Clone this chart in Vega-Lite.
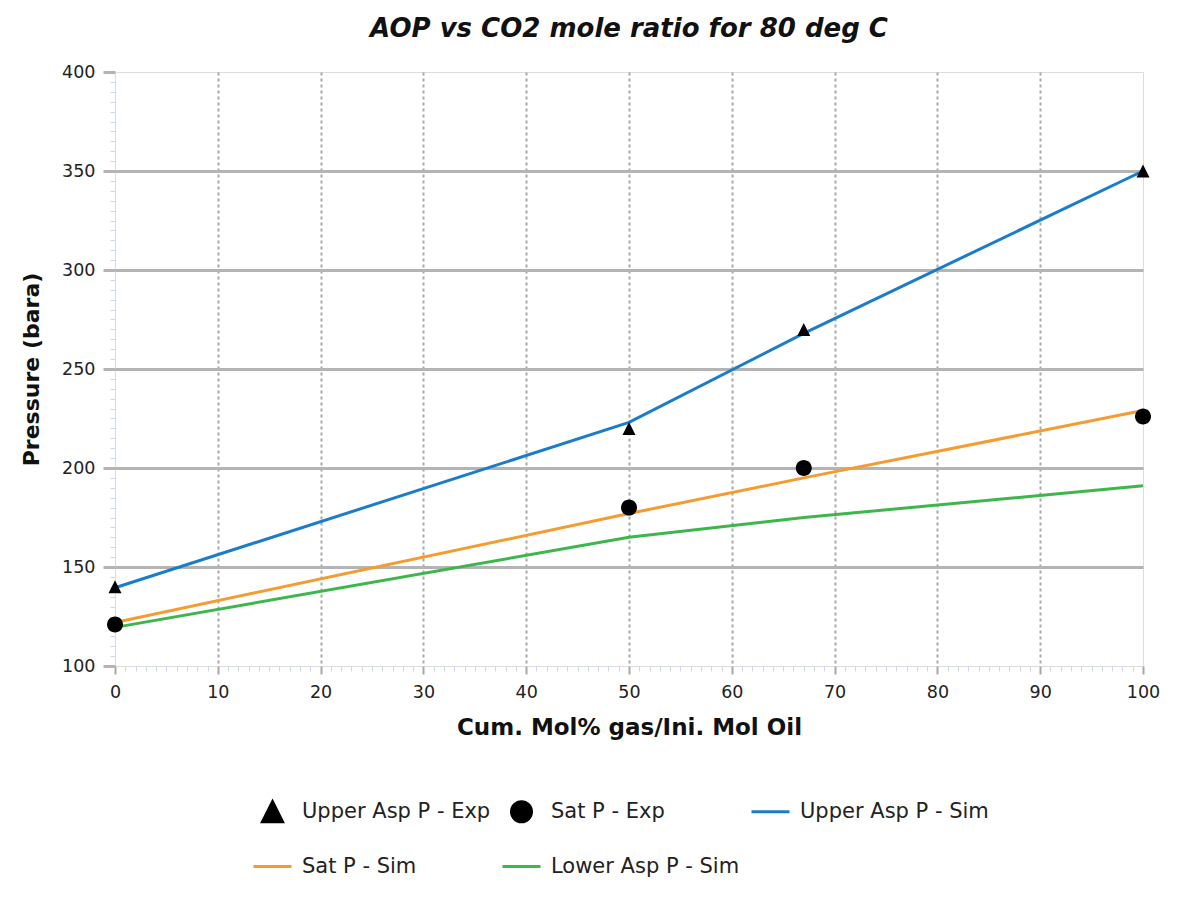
{
  "$schema": "https://vega.github.io/schema/vega-lite/v6.json",
  "autosize": "none",
  "width": 1028,
  "height": 594,
  "padding": {"left": 115, "top": 72, "right": 55, "bottom": 235},
  "background": "white",
  "title": {
    "text": "AOP vs CO2 mole ratio for 80 deg C",
    "anchor": "middle",
    "font": "DejaVu Sans",
    "fontSize": 26,
    "fontWeight": "bold",
    "fontStyle": "italic",
    "color": "#111111",
    "offset": 21
  },
  "data": {
    "values": [
      {"series": "Upper Asp P - Exp", "kind": "exp", "gas": 0, "pressure": 140},
      {"series": "Upper Asp P - Exp", "kind": "exp", "gas": 50, "pressure": 220},
      {"series": "Upper Asp P - Exp", "kind": "exp", "gas": 67, "pressure": 270},
      {"series": "Upper Asp P - Exp", "kind": "exp", "gas": 100, "pressure": 350},
      {"series": "Sat P - Exp", "kind": "exp", "gas": 0, "pressure": 121},
      {"series": "Sat P - Exp", "kind": "exp", "gas": 50, "pressure": 180},
      {"series": "Sat P - Exp", "kind": "exp", "gas": 67, "pressure": 200},
      {"series": "Sat P - Exp", "kind": "exp", "gas": 100, "pressure": 226},
      {"series": "Upper Asp P - Sim", "kind": "sim", "gas": 0, "pressure": 139.5},
      {"series": "Upper Asp P - Sim", "kind": "sim", "gas": 50, "pressure": 223},
      {"series": "Upper Asp P - Sim", "kind": "sim", "gas": 67, "pressure": 268},
      {"series": "Upper Asp P - Sim", "kind": "sim", "gas": 100, "pressure": 350},
      {"series": "Sat P - Sim", "kind": "sim", "gas": 0, "pressure": 122},
      {"series": "Sat P - Sim", "kind": "sim", "gas": 50, "pressure": 177},
      {"series": "Sat P - Sim", "kind": "sim", "gas": 67, "pressure": 195},
      {"series": "Sat P - Sim", "kind": "sim", "gas": 100, "pressure": 229},
      {"series": "Lower Asp P - Sim", "kind": "sim", "gas": 0, "pressure": 119.5},
      {"series": "Lower Asp P - Sim", "kind": "sim", "gas": 50, "pressure": 165},
      {"series": "Lower Asp P - Sim", "kind": "sim", "gas": 67, "pressure": 175},
      {"series": "Lower Asp P - Sim", "kind": "sim", "gas": 100, "pressure": 191}
    ]
  },
  "encoding": {
    "x": {
      "field": "gas",
      "type": "quantitative",
      "scale": {"domain": [0, 100], "nice": false, "zero": false},
      "axis": {
        "title": "Cum. Mol% gas/Ini. Mol Oil",
        "tickCount": 100,
        "labelExpr": "datum.value % 10 === 0 ? datum.label : ''",
        "labelOverlap": false,
        "labelFlush": false,
        "domain": false,
        "grid": true,
        "gridColor": "#a8a8a8",
        "gridDash": [3, 3],
        "gridWidth": 2,
        "gridOpacity": {"condition": {"test": "datum.value % 10 === 0 && datum.value > 0 && datum.value < 100", "value": 1}, "value": 0},
        "tickColor": {"condition": {"test": "datum.value % 10 === 0", "value": "#a8a8a8"}, "value": "#c9d8ec"},
        "tickWidth": {"condition": {"test": "datum.value % 10 === 0", "value": 2}, "value": 1},
        "tickSize": {"condition": {"test": "datum.value % 10 === 0", "value": 8}, "value": 5},
        "labelFont": "DejaVu Sans",
        "labelFontSize": 17.5,
        "labelColor": "#222222",
        "labelPadding": 9,
        "titleFont": "DejaVu Sans",
        "titleFontSize": 23,
        "titleFontWeight": "bold",
        "titleColor": "#111111",
        "titlePadding": 16
      }
    },
    "y": {
      "field": "pressure",
      "type": "quantitative",
      "scale": {"domain": [100, 400], "nice": false, "zero": false},
      "axis": {
        "title": "Pressure (bara)",
        "tickCount": 60,
        "labelExpr": "datum.value % 50 === 0 ? datum.label : ''",
        "labelOverlap": false,
        "labelFlush": false,
        "domain": false,
        "grid": true,
        "gridColor": "#b4b4b4",
        "gridWidth": 3,
        "gridOpacity": {"condition": {"test": "datum.value % 50 === 0 && datum.value > 100 && datum.value < 400", "value": 1}, "value": 0},
        "tickColor": {"condition": {"test": "datum.value % 50 === 0", "value": "#b4b4b4"}, "value": "#c9d8ec"},
        "tickWidth": {"condition": {"test": "datum.value % 50 === 0", "value": 3}, "value": 1},
        "tickSize": {"condition": {"test": "datum.value % 50 === 0", "value": 12}, "value": 5},
        "labelFont": "DejaVu Sans",
        "labelFontSize": 17.5,
        "labelColor": "#222222",
        "labelPadding": 8,
        "titleFont": "DejaVu Sans",
        "titleFontSize": 22,
        "titleFontWeight": "bold",
        "titleColor": "#111111",
        "titlePadding": 18
      }
    }
  },
  "layer": [
    {
      "transform": [{"filter": "datum.kind === 'sim'"}],
      "mark": {"type": "line", "strokeWidth": 3},
      "encoding": {
        "color": {
          "field": "series",
          "type": "nominal",
          "scale": {
            "domain": ["Upper Asp P - Exp", "Sat P - Exp", "Upper Asp P - Sim", "Sat P - Sim", "Lower Asp P - Sim"],
            "range": ["#000000", "#000000", "#1b7cc9", "#f59b2f", "#3db64b"]
          },
          "legend": {
            "orient": "none",
            "legendX": 146,
            "legendY": 728,
            "direction": "horizontal",
            "columns": 3,
            "title": null,
            "padding": 0,
            "gridAlign": "all",
            "symbolSize": 400,
            "symbolStrokeWidth": 3,
            "labelFont": "DejaVu Sans",
            "labelFontSize": 21,
            "labelColor": "#222222",
            "labelOffset": 18,
            "labelLimit": 400,
            "columnPadding": 5,
            "rowPadding": 22,
            "encode": {
              "symbols": {
                "update": {
                  "fill": {"scale": "color", "field": "value"},
                  "stroke": {"scale": "color", "field": "value"},
                  "fillOpacity": {"value": 1},
                  "strokeWidth": {"value": 3}
                }
              }
            }
          }
        }
      }
    },
    {
      "transform": [{"filter": "datum.kind === 'exp'"}],
      "mark": {"type": "point", "filled": true, "opacity": 1},
      "encoding": {
        "color": {"field": "series", "type": "nominal"},
        "shape": {
          "field": "series",
          "type": "nominal",
          "scale": {
            "domain": ["Upper Asp P - Exp", "Sat P - Exp", "Upper Asp P - Sim", "Sat P - Sim", "Lower Asp P - Sim"],
            "range": [
              "M-1.8,0M1.8,0M0,-1L1,1H-1Z",
              "M-1.8,0M1.8,0M1,0A1,1,0,1,1,-1,0A1,1,0,1,1,1,0Z",
              "M0,-1M0,1M-1.9,0H1.9",
              "M0,-1M0,1M-1.9,0H1.9",
              "M0,-1M0,1M-1.9,0H1.9"
            ]
          }
        },
        "size": {
          "field": "series",
          "type": "nominal",
          "scale": {"domain": ["Upper Asp P - Exp", "Sat P - Exp"], "range": [169, 256]},
          "legend": null
        }
      }
    }
  ]
}
